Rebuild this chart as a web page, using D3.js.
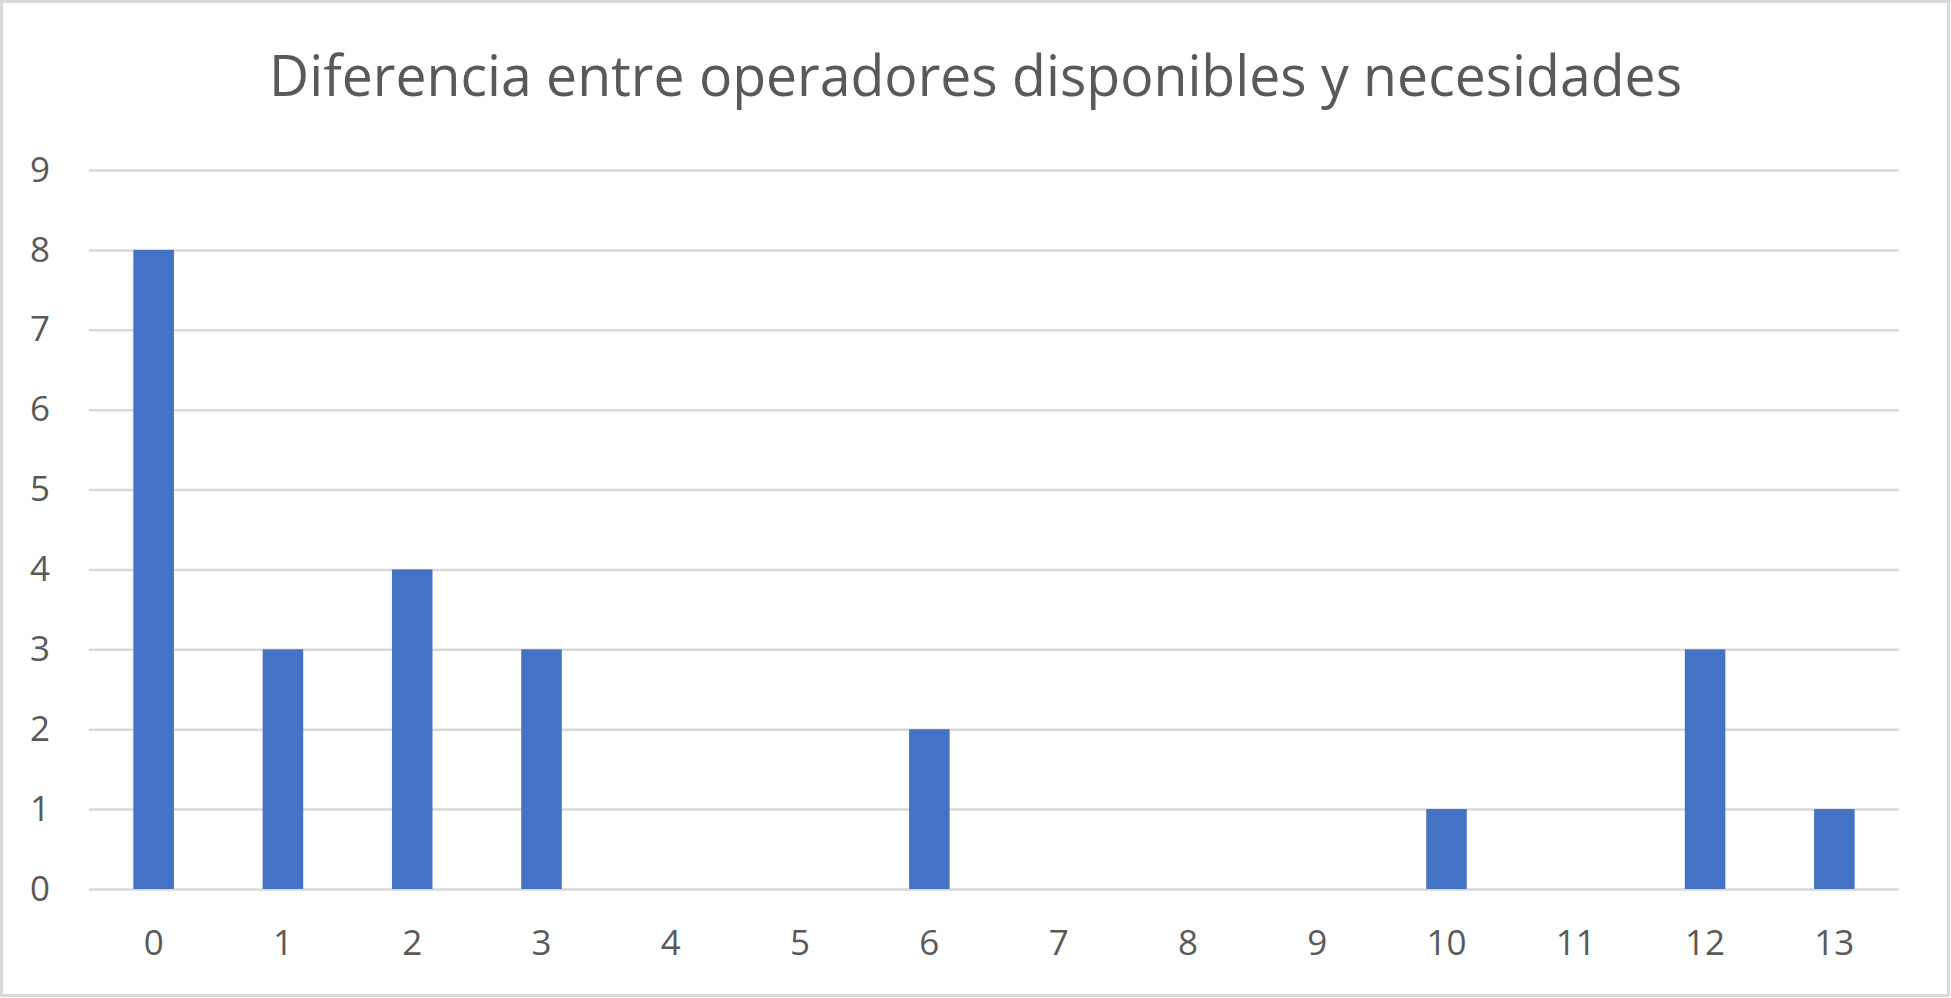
<!DOCTYPE html>
<html lang="es">
<head>
    <meta charset="UTF-8">
    <title>Diferencia entre operadores disponibles y necesidades</title>
    <style>
        body {
            margin: 0;
            background: #fff;
        }
        .tick-label {
            font-family: "Open Sans", sans-serif;
            fill: #595959;
        }
    </style>
</head>
<body>
    <script src="https://d3js.org/d3.v7.min.js"></script>
    <script>
// chart data
const categories = ["0", "1", "2", "3", "4", "5", "6", "7", "8", "9", "10", "11", "12", "13"];
const values = [8, 3, 4, 3, 0, 0, 2, 0, 0, 0, 1, 0, 3, 1];
const yTicks = [0, 1, 2, 3, 4, 5, 6, 7, 8, 9];
const title = "Diferencia entre operadores disponibles y necesidades";

const width = 1951;
const height = 998;
const plot = {left: 89, right: 1899, top: 170, bottom: 889};

const svg = d3.select("body")
    .append("svg")
    .attr("width", width)
    .attr("height", height);

// chart frame
svg.append("rect")
    .attr("x", 1.5)
    .attr("y", 1.5)
    .attr("width", width - 4)
    .attr("height", height - 4)
    .attr("fill", "#fff")
    .attr("stroke", "#d9d9d9")
    .attr("stroke-width", 3);

// gap width ~219% like excel, outer padding half of inner so the step stays range/n
const x = d3.scaleBand()
    .domain(categories)
    .range([plot.left, plot.right])
    .paddingInner(0.6865)
    .paddingOuter(0.6865 / 2);

const y = d3.scaleLinear()
    .domain([0, 9])
    .range([plot.bottom, plot.top]);

// gridlines
svg.append("g")
    .attr("transform", `translate(${plot.left},0)`)
    .call(d3.axisLeft(y).tickValues(yTicks).tickSize(-(plot.right - plot.left)).tickFormat(""))
    .call(g => g.select(".domain").remove())
    .call(g => g.selectAll("line").attr("stroke", "#d9d9d9").attr("stroke-width", 2.5));

// y labels
svg.append("g")
    .attr("transform", "translate(50,0)")
    .call(d3.axisLeft(y).tickValues(yTicks).tickSize(0).tickPadding(0))
    .call(g => g.select(".domain").remove())
    .call(g => g.selectAll("text")
        .attr("class", "tick-label")
        .attr("font-size", 35)
        .attr("text-anchor", "end"));

// bars
svg.append("g")
    .selectAll("rect")
    .data(values)
    .join("rect")
    .attr("x", (d, i) => x(categories[i]))
    .attr("y", d => y(d))
    .attr("width", x.bandwidth())
    .attr("height", d => y(0) - y(d))
    .attr("fill", "#4472c4");

// x labels
svg.append("g")
    .attr("transform", `translate(0,${plot.bottom})`)
    .call(d3.axisBottom(x).tickSize(0).tickPadding(41))
    .call(g => g.select(".domain").remove())
    .call(g => g.selectAll("text")
        .attr("class", "tick-label")
        .attr("font-size", 35));

// title
svg.append("text")
    .attr("x", width / 2)
    .attr("y", 96)
    .attr("text-anchor", "middle")
    .attr("font-family", "Open Sans, sans-serif")
    .attr("font-size", 57)
    .attr("fill", "#595959")
    .attr("textLength", 1413)
    .attr("lengthAdjust", "spacingAndGlyphs")
    .text(title);
    </script>
</body>
</html>
